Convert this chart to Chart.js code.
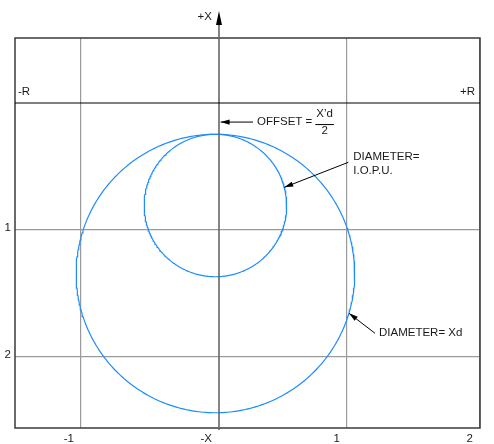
<!DOCTYPE html>
<html>
<head>
<meta charset="utf-8">
<script src="https://cdn.jsdelivr.net/npm/chart.js@4/dist/chart.umd.min.js"></script>
<style>
  html, body { margin: 0; padding: 0; background: #fff; }
  #wrap { width: 494px; height: 444px; }
</style>
</head>
<body>
<div id="wrap"><canvas id="c" width="494" height="444"></canvas></div>
<script>
// Circle diagram: R horizontal, X downward, per-unit reactances.
const offset = 0.246;            // X'd / 2, distance of both circles' top from the R axis
const circleCenterX = -0.028;
const diameterIOPU = 1.122;      // small circle
const diameterXd = 2.193;        // large circle

// Axis window and grid
const xRange = [-1.606, 2.055];
const yRange = [-0.512, 2.559];
const xGridAt = [-1.087, 0, 1.008, 2.055];
const xTickLabels = ['-1', '-X', '1', '2'];
const yGridAt = [0, 1, 2];
const yTickLabels = ['', '1', '2'];

// Call-outs: arrow tip, arrow tail (data units)
const offsetArrow = { tip: [0.013, 0.150], tail: [0.268, 0.150] };
const iopuArrow = { tip: [0.514, 0.664], tail: [1.018, 0.467] };
const xdArrow = { tip: [1.024, 1.656], tail: [1.228, 1.813] };

const FONT = '11.5px "Liberation Sans", Arial, sans-serif';
const INK = '#1a1a1a';
const BLUE = '#1e8cff';

function circlePoints(diameter) {
  const r = diameter / 2;
  const cy = offset + r;
  const pts = [];
  for (let i = 0; i <= 360; i += 1) {
    const a = i * Math.PI / 180;
    pts.push({ x: circleCenterX + r * Math.sin(a), y: cy - r * Math.cos(a) });
  }
  return pts;
}

function arrowHead(ctx, x1, y1, x2, y2, len, half) {
  const ang = Math.atan2(y2 - y1, x2 - x1);
  ctx.beginPath();
  ctx.moveTo(x2, y2);
  ctx.lineTo(x2 - len * Math.cos(ang) + half * Math.sin(ang), y2 - len * Math.sin(ang) - half * Math.cos(ang));
  ctx.lineTo(x2 - len * Math.cos(ang) - half * Math.sin(ang), y2 - len * Math.sin(ang) + half * Math.cos(ang));
  ctx.closePath();
  ctx.fill();
}

const overlay = {
  id: 'overlay',
  afterDatasetsDraw(chart) {
    const { ctx, chartArea: a, scales: { x, y } } = chart;
    const px = v => x.getPixelForValue(v);
    const py = v => y.getPixelForValue(v);
    ctx.save();

    // frame
    ctx.strokeStyle = '#3a3a3a';
    ctx.lineWidth = 1.5;
    ctx.strokeRect(a.left, a.top, a.right - a.left, a.bottom - a.top);

    // X axis carried above the frame with arrow
    const x0 = px(0);
    ctx.strokeStyle = '#666';
    ctx.lineWidth = 1.6;
    ctx.beginPath();
    ctx.moveTo(x0, 22);
    ctx.lineTo(x0, a.bottom + 2);
    ctx.stroke();
    ctx.fillStyle = '#000';
    ctx.beginPath();
    ctx.moveTo(x0, 11);
    ctx.lineTo(x0 - 3, 25);
    ctx.lineTo(x0 + 3, 25);
    ctx.closePath();
    ctx.fill();

    // R axis line
    ctx.strokeStyle = '#000';
    ctx.lineWidth = 1.2;
    ctx.beginPath();
    ctx.moveTo(a.left, py(0));
    ctx.lineTo(a.right, py(0));
    ctx.stroke();

    ctx.font = FONT;
    ctx.fillStyle = INK;
    ctx.textBaseline = 'middle';
    ctx.textAlign = 'right';
    ctx.fillText('+X', x0 - 7, 17);
    ctx.textAlign = 'left';
    ctx.fillText('-R', a.left + 3, py(0) - 11.5);
    ctx.textAlign = 'right';
    ctx.fillText('+R', a.right - 5, py(0) - 11.5);

    // call-out arrows
    ctx.strokeStyle = '#000';
    ctx.fillStyle = '#000';
    ctx.lineWidth = 1;
    [offsetArrow, iopuArrow, xdArrow].forEach(ar => {
      const tx = px(ar.tail[0]), ty = py(ar.tail[1]);
      const hx = px(ar.tip[0]), hy = py(ar.tip[1]);
      ctx.beginPath();
      ctx.moveTo(tx, ty);
      ctx.lineTo(hx, hy);
      ctx.stroke();
      arrowHead(ctx, tx, ty, hx, hy, 9, 2.6);
    });

    ctx.fillStyle = INK;
    ctx.textAlign = 'left';
    // OFFSET = X'd / 2
    let ox = px(offsetArrow.tail[0]) + 4, oy = py(offsetArrow.tail[1]);
    ctx.fillText('OFFSET =', ox, oy);
    const fw = ctx.measureText('OFFSET =').width;
    const fx = ox + fw + 4;
    const numW = ctx.measureText('X\u2019d').width;
    ctx.fillText('X\u2019d', fx, oy - 8);
    ctx.textAlign = 'center';
    ctx.fillText('2', fx + numW / 2, oy + 8.5);
    ctx.lineWidth = 1;
    ctx.beginPath();
    ctx.moveTo(fx - 1, oy + 2.5);
    ctx.lineTo(fx + numW + 1, oy + 2.5);
    ctx.stroke();

    // DIAMETER = I.O.P.U.
    ctx.textAlign = 'left';
    const ix = px(iopuArrow.tail[0]) + 5, iy = py(iopuArrow.tail[1]);
    ctx.fillText('DIAMETER=', ix, iy - 5.5);
    ctx.fillText('I.O.P.U.', ix, iy + 8.5);

    // DIAMETER = Xd
    ctx.fillText('DIAMETER= Xd', px(xdArrow.tail[0]) + 4, py(xdArrow.tail[1]));

    ctx.restore();
  }
};

new Chart(document.getElementById('c'), {
  type: 'scatter',
  data: {
    datasets: [
      { label: 'I.O.P.U.', data: circlePoints(diameterIOPU) },
      { label: 'Xd', data: circlePoints(diameterXd) }
    ].map(d => Object.assign(d, {
      showLine: true, borderColor: BLUE, borderWidth: 1.2,
      pointRadius: 0, pointHoverRadius: 0, tension: 0, fill: false
    }))
  },
  options: {
    responsive: false,
    animation: false,
    devicePixelRatio: 1,
    layout: { padding: { top: 38, right: 14, left: 0, bottom: 0 } },
    plugins: { legend: { display: false }, tooltip: { enabled: false } },
    events: [],
    scales: {
      x: {
        type: 'linear', min: xRange[0], max: xRange[1],
        afterBuildTicks: s => { s.ticks = xGridAt.map(v => ({ value: v })); },
        afterFit: s => { s.height = 16; },
        border: { display: false },
        grid: {
          drawTicks: false,
          color: c => (c.tick && c.tick.value === 0) ? 'rgba(0,0,0,0)' : '#9a9a9a',
          lineWidth: 1.2
        },
        ticks: {
          autoSkip: false, maxRotation: 0, align: 'end', labelOffset: -7, padding: 4,
          color: INK, font: { family: '"Liberation Sans", Arial, sans-serif', size: 11.5 },
          callback: (v, i) => xTickLabels[i]
        }
      },
      y: {
        type: 'linear', reverse: true, min: yRange[0], max: yRange[1],
        afterBuildTicks: s => { s.ticks = yGridAt.map(v => ({ value: v })); },
        afterFit: s => { s.width = 15; },
        border: { display: false },
        grid: {
          drawTicks: false,
          color: c => (c.tick && c.tick.value === 0) ? 'rgba(0,0,0,0)' : '#9a9a9a',
          lineWidth: 1.2
        },
        ticks: {
          autoSkip: false, padding: 4, labelOffset: -2,
          color: INK, font: { family: '"Liberation Sans", Arial, sans-serif', size: 11.5 },
          callback: (v, i) => yTickLabels[i]
        }
      }
    }
  },
  plugins: [overlay]
});
</script>
</body>
</html>
